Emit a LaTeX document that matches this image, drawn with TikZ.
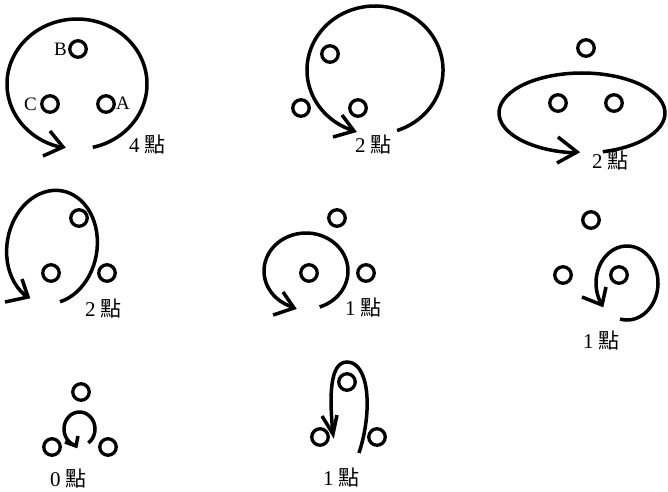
\documentclass[tikz,border=0pt]{standalone}
\usepackage{fontspec}
\setmainfont{Liberation Serif}
\newfontfamily\cjk{Noto Sans CJK TC}
\tikzset{
  ring/.style={circle, draw, line width=3.3pt, minimum size=16.5pt, inner sep=0pt},
  loopline/.style={line width=3.5pt},
  chev/.style={line width=3.5pt, line join=miter, line cap=butt},
  lbl/.style={anchor=base west, inner sep=0pt, font=\fontsize{21}{21}\selectfont},
  letter/.style={inner sep=0pt, font=\fontsize{19}{19}\selectfont},
}
\begin{document}
\begin{tikzpicture}[x=1pt,y=1pt]
\useasboundingbox (0,0) rectangle (668,-491);

% Panel 1
\node[ring] (p1b) at (78,-49) {};
\node[ring] (p1c) at (50,-104) {};
\node[ring] (p1a) at (106,-104) {};
\node[letter, anchor=base east] (lb) at (67,-55) {B};
\node[letter, anchor=base west] (lc) at (24,-110) {C};
\node[letter, anchor=base west] (la) at (116,-109) {A};
\coordinate (s1) at ([shift={(-77:70pt and 65pt)}]77,-84);
\coordinate (h1) at (63,-147);
\draw[loopline] (s1) arc[start angle=-77, end angle=258, x radius=70pt, y radius=65pt];
\draw[chev] (50,-131) -- (h1) -- (43,-156);
\node[lbl] (t1) at (129,-152) {4 {\cjk 點}};

% Panel 2
\node[ring] (p2a) at (330,-54) {};
\node[ring] (p2b) at (301,-108) {};
\node[ring] (p2c) at (358,-108) {};
\coordinate (s2) at ([shift={(-71:68pt and 64pt)}]375,-70);
\coordinate (h2) at (354,-131);
\draw[loopline] (s2) arc[start angle=-71, end angle=252, x radius=68pt, y radius=64pt];
\draw[chev] (342,-115) -- (h2) -- (333,-137);
\node[lbl] (t2) at (355,-152) {2 {\cjk 點}};

% Panel 3
\node[ring] (p3a) at (586,-48) {};
\node[ring] (p3b) at (558,-103) {};
\node[ring] (p3c) at (614,-103) {};
\coordinate (s3) at ([shift={(-75.5:83pt and 40pt)}]582,-113);
\coordinate (h3) at (577,-152);
\draw[loopline] (s3) arc[start angle=-75.5, end angle=266, x radius=83pt, y radius=40pt];
\draw[chev] (558,-137) -- (h3) -- (557,-163);
\node[lbl] (t3) at (592,-168) {2 {\cjk 點}};

% Panel 4
\node[ring] (p4a) at (79,-218) {};
\node[ring] (p4b) at (51,-273) {};
\node[ring] (p4c) at (107,-273) {};
\begin{scope}[shift={(52,-247)}, rotate=80]
  \coordinate (s4) at (202.8:57pt and 45pt);
  \draw[loopline] (s4) arc[start angle=202.8, end angle=521, x radius=57pt, y radius=45pt];
\end{scope}
\coordinate (h4) at (28,-297);
\draw[chev] (22,-279) -- (h4) -- (5,-302);
\node[lbl] (t4) at (85,-316) {2 {\cjk 點}};

% Panel 5
\node[ring] (p5a) at (337,-218) {};
\node[ring] (p5b) at (309,-273) {};
\node[ring] (p5c) at (366,-273) {};
\coordinate (s5) at ([shift={(-71:42pt and 38pt)}]306,-271);
\coordinate (h5) at (294,-308);
\draw[loopline] (s5) arc[start angle=-71, end angle=253, x radius=42pt, y radius=38pt];
\draw[chev] (283,-292) -- (h5) -- (273,-315);
\node[lbl] (t5) at (345,-315) {1 {\cjk 點}};

% Panel 6
\node[ring] (p6a) at (591,-220) {};
\node[ring] (p6b) at (563,-275) {};
\node[ring] (p6c) at (619,-275) {};
\coordinate (s6) at ([shift={(-103:31pt and 37pt)}]627,-283);
\coordinate (h6) at (602,-305);
\draw[loopline] (s6) arc[start angle=-103, end angle=216, x radius=31pt, y radius=37pt];
\draw[chev] (582,-297) -- (h6) -- (606,-287);
\node[lbl] (t6) at (583,-348) {1 {\cjk 點}};

% Panel 7
\node[ring] (p7a) at (81,-392) {};
\node[ring] (p7b) at (52,-447) {};
\node[ring] (p7c) at (108,-447) {};
\coordinate (s7) at ([shift={(-55:15.5pt and 17pt)}]79.5,-429);
\coordinate (h7) at (76,-446);
\draw[loopline] (s7) arc[start angle=-55, end angle=258, x radius=15.5pt, y radius=17pt];
\draw[chev] (65,-442) -- (h7) -- (78,-436);
\node[lbl] (t7) at (50,-486) {0 {\cjk 點}};

% Panel 8
\node[ring] (p8a) at (347,-382) {};
\node[ring] (p8b) at (320,-437) {};
\node[ring] (p8c) at (377,-437) {};
\coordinate (s8) at (359,-453);
\coordinate (m8) at (347,-362);
\coordinate (h8) at (333,-434);
\draw[loopline] (s8) .. controls (373,-410) and (369,-362) .. (m8) .. controls (330,-362) and (329,-395) .. (h8);
\draw[chev] (322,-416) -- (h8) -- (337,-415);
\node[lbl] (t8) at (323,-485) {1 {\cjk 點}};
\end{tikzpicture}
\end{document}
